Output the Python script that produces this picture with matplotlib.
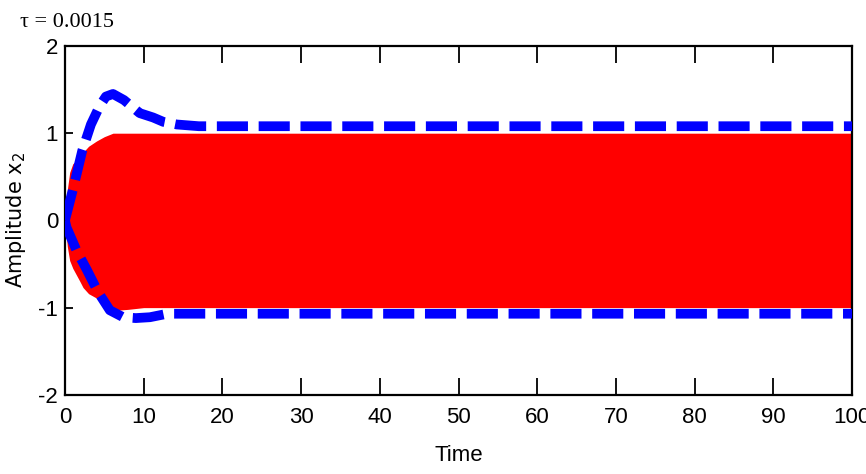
import matplotlib
matplotlib.use("Agg")
import matplotlib.pyplot as plt

# Envelope of the state response x2 (red band bounds)
t_red = [0.0, 0.3, 0.6, 1.0, 1.9, 2.3, 3.0, 4.0, 4.4, 5.0, 6.1, 6.6, 8.0, 10.0, 20.0, 40.0, 60.0, 80.0, 100.0]
red_upper = [0.0, 0.35, 0.55, 0.65, 0.72, 0.78, 0.85, 0.91, 0.93, 0.96, 1.0, 1.0, 1.0, 1.0, 1.0, 1.0, 1.0, 1.0, 1.0]
red_lower = [0.0, -0.3, -0.46, -0.55, -0.7, -0.77, -0.84, -0.89, -0.91, -0.96, -1.0, -1.03, -1.02, -1.0, -1.0, -1.0, -1.0, -1.0, -1.0]

# Bound curves (blue dashed)
t_up = [0.0, 1.0, 2.2, 3.3, 4.4, 5.2, 6.1, 7.5, 9.5, 11.2, 12.5, 14.2, 17.0, 20.0, 40.0, 60.0, 80.0, 100.0]
blue_upper = [0.0, 0.35, 0.8, 1.1, 1.31, 1.42, 1.45, 1.38, 1.23, 1.18, 1.13, 1.10, 1.08, 1.08, 1.08, 1.08, 1.08, 1.08]
t_lo = [0.0, 0.2, 1.5, 2.8, 4.2, 5.7, 7.4, 9.0, 10.8, 13.0, 16.0, 20.0, 40.0, 60.0, 80.0, 100.0]
blue_lower = [0.0, -0.08, -0.35, -0.57, -0.82, -1.03, -1.11, -1.12, -1.11, -1.07, -1.07, -1.07, -1.07, -1.07, -1.07, -1.07]

x_ticks = list(range(0, 101, 10))
y_ticks = [-2, -1, 0, 1, 2]

tick_font = ["Liberation Sans", "DejaVu Sans"]

fig = plt.figure(figsize=(8.66, 4.74), dpi=100)
ax = fig.add_axes([0.075, 0.167, 0.909, 0.736])

ax.fill_between(t_red, red_lower, red_upper, color="#ff0000", linewidth=0, zorder=2)
ax.plot(t_up, blue_upper, color="#0000ff", linewidth=7, linestyle=(0, (3.2, 1.1)),
        dash_capstyle="butt", zorder=3)
ax.plot(t_lo, blue_lower, color="#0000ff", linewidth=7, linestyle=(0, (3.2, 1.1)),
        dash_capstyle="butt", zorder=3)

ax.set_xlim(0, 100)
ax.set_ylim(-2, 2)
ax.set_xticks(x_ticks)
ax.set_yticks(y_ticks)
ax.set_xticklabels([str(v) for v in x_ticks], family=tick_font, fontsize=16)
ax.set_yticklabels([str(v) for v in y_ticks], family=tick_font, fontsize=16)
ax.tick_params(axis="x", direction="in", length=12, width=1.3, top=True, pad=9)
ax.tick_params(axis="y", direction="in", length=6, width=1.3, right=False, pad=5)
for s in ax.spines.values():
    s.set_linewidth(1.6)

ax.set_xlabel("Time", family=tick_font, fontsize=16, labelpad=12)
ax.set_ylabel(r"Amplitude $\mathregular{x_2}$", family=["DejaVu Sans"], fontsize=15, labelpad=7)

fig.text(0.023, 0.953, "\u03c4 = 0.0015", family=["Liberation Serif", "DejaVu Serif"], fontsize=16,
         ha="left", va="center")

fig.savefig("out.png", dpi=100)
